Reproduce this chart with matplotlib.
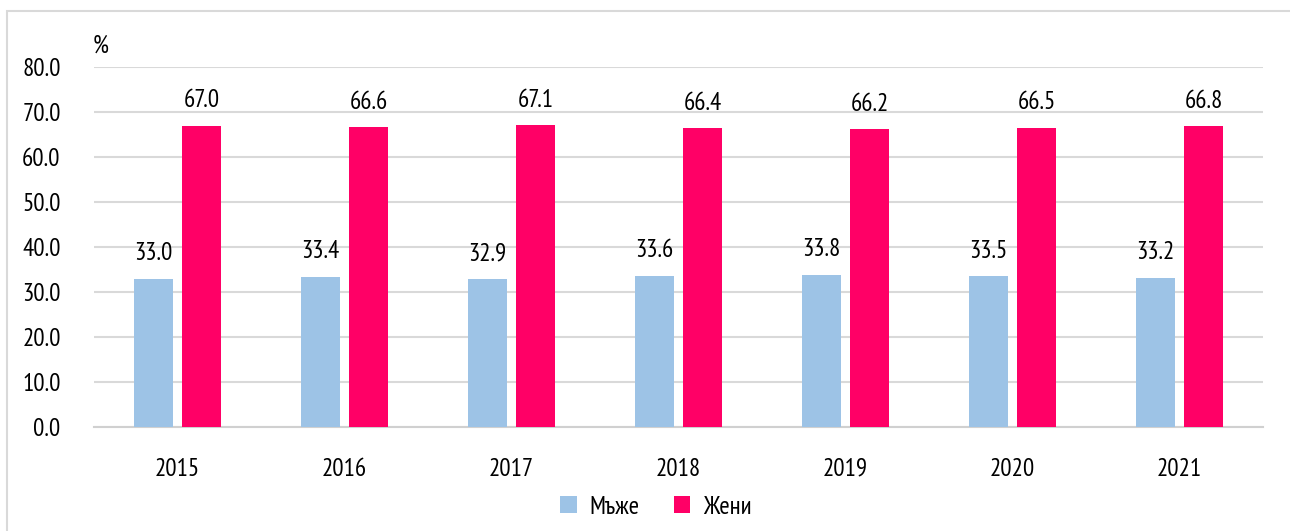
import numpy as np
import matplotlib.pyplot as plt
from matplotlib.patches import Rectangle

years = ['2015', '2016', '2017', '2018', '2019', '2020', '2021']
men = [33.0, 33.4, 32.9, 33.6, 33.8, 33.5, 33.2]
women = [67.0, 66.6, 67.1, 66.4, 66.2, 66.5, 66.8]
series_names = ['Мъже', 'Жени']

plt.rcParams['font.family'] = ['PT Sans Narrow', 'Roboto Condensed', 'DejaVu Sans']

W, H = 1290, 531
fig = plt.figure(figsize=(W / 100, H / 100), dpi=100)
fig.patches.append(Rectangle((7 / W, -0.01), (W - 7.5) / W - 7 / W + 0.01, 1 - 11 / H + 0.01,
                             transform=fig.transFigure, fill=False,
                             edgecolor='#d9d9d9', linewidth=1.5))

ax = fig.add_axes([94 / W, 1 - 427 / H, (1263 - 94) / W, (427 - 67) / H])
x = np.arange(len(years))
w = 0.234
off = 0.144
b1 = ax.bar(x - off, men, w, color='#9dc3e6', label=series_names[0], zorder=3)
b2 = ax.bar(x + off, women, w, color='#ff0066', label=series_names[1], zorder=3)

fs = 18
for i in range(len(years)):
    ax.text(x[i] - off, men[i] + 3.0, '%.1f' % men[i], ha='center', va='bottom', fontsize=fs)
    ax.text(x[i] + off, women[i] + 3.0, '%.1f' % women[i], ha='center', va='bottom', fontsize=fs)

ax.set_xlim(-0.5, len(years) - 0.5)
ax.set_ylim(0, 80)
ax.set_yticks(np.arange(0, 81, 10))
ax.set_yticklabels(['%.1f' % v for v in np.arange(0, 81, 10)], fontsize=fs)
ax.set_xticks(x)
ax.set_xticklabels(years, fontsize=fs)
ax.tick_params(axis='both', length=0)
ax.tick_params(axis='x', pad=22)
ax.tick_params(axis='y', pad=24)
ax.grid(axis='y', color='#d9d9d9', linewidth=1.5, zorder=0)
for s in ['top', 'right', 'left']:
    ax.spines[s].set_visible(False)
ax.spines['bottom'].set_color('#d0d0d0')
ax.spines['bottom'].set_linewidth(1.5)

fig.text(93 / W, 1 - 46 / H, '%', fontsize=fs, ha='left', va='center')

fig.legend(handles=[b1, b2], loc='center', bbox_to_anchor=(656 / W, 1 - 507 / H), ncol=2,
           frameon=False, fontsize=fs, handlelength=0.65, handleheight=0.65,
           columnspacing=1.4, handletextpad=0.5)

plt.savefig('out.png', dpi=100)
